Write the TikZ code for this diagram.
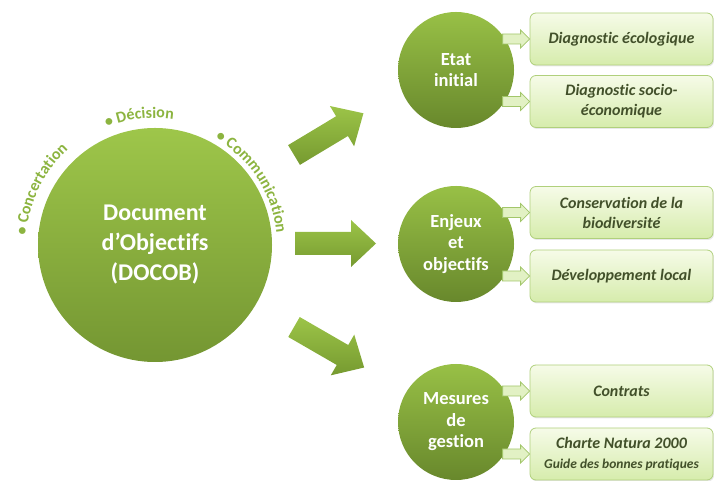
\documentclass[tikz,border=0pt]{standalone}
\usepackage{fontspec}
\setmainfont{Carlito}[Ligatures=NoCommon]
\usetikzlibrary{decorations.text}
\usetikzlibrary{shadows}

\definecolor{circtop}{RGB}{158,198,74}
\definecolor{circbot}{RGB}{116,150,50}
\definecolor{smalltop}{RGB}{152,192,70}
\definecolor{smallbot}{RGB}{104,136,44}
\definecolor{lblgreen}{RGB}{140,180,64}
\definecolor{boxtop}{RGB}{246,251,232}
\definecolor{boxbot}{RGB}{214,236,172}
\definecolor{boxline}{RGB}{176,208,124}
\definecolor{boxtext}{RGB}{66,80,42}
\definecolor{arrtop}{RGB}{156,196,72}
\definecolor{arrbot}{RGB}{118,154,48}
\definecolor{smallarr}{RGB}{226,241,196}
\definecolor{smallarrline}{RGB}{162,198,106}

\tikzset{
  bigcirc/.style={circle, minimum size=234pt, inner sep=0pt, top color=circtop, bottom color=circbot,
    text=white, align=center, font=\fontsize{24}{30}\selectfont\bfseries},
  phase/.style={circle, minimum size=116pt, inner sep=0pt, top color=smalltop, bottom color=smallbot,
    text=white, align=center, font=\fontsize{18.5}{21.5}\selectfont\bfseries},
  item/.style={rounded corners=6pt, minimum width=183pt, minimum height=52pt, draw=boxline, line width=0.8pt,
    top color=boxtop, bottom color=boxbot, text=boxtext, align=center,
    font=\fontsize{16}{20}\selectfont\bfseries\itshape,
    drop shadow={opacity=0.18, shadow xshift=1pt, shadow yshift=-1.5pt}},
  bigarrow/.style={top color=arrtop, bottom color=arrbot, draw=none},
  smallarrow/.style={fill=smallarr, draw=smallarrline, line width=0.8pt, line join=miter},
  arclabel/.style={decorate, decoration={text along path, text align=center,
    text={|\fontsize{16}{16}\selectfont\bfseries\color{lblgreen}|#1}}}
}

\begin{document}
\begin{tikzpicture}[x=1pt,y=1pt]
\useasboundingbox (0,0) rectangle (714,481);

% big circle
\node[bigcirc] (docob) at (155,236) {Document\\d’Objectifs\\(DOCOB)};

% labels round the big circle
\path[arclabel={• Concertation}] (docob.center) ++(184:129) arc[start angle=184, end angle=124, radius=129];
\path[arclabel={• Décision}] (docob.center) ++(120:127) arc[start angle=120, end angle=74, radius=127];
\path[arclabel={• Communication}] (docob.center) ++(70:122) arc[start angle=70, end angle=-4, radius=122];

% block arrows
\begin{scope}[shift={(294,326)}, rotate=31]
  \shade[bigarrow] (0,11.5) -- (56,11.5) -- (56,23.5) -- (81,0) -- (56,-23.5) -- (56,-11.5) -- (0,-11.5) -- cycle;
\end{scope}
\begin{scope}[shift={(295,237.5)}]
  \shade[bigarrow] (0,11.5) -- (56,11.5) -- (56,23.5) -- (81,0) -- (56,-23.5) -- (56,-11.5) -- (0,-11.5) -- cycle;
\end{scope}
\begin{scope}[shift={(294,154)}, rotate=-30]
  \shade[bigarrow] (0,11.5) -- (56,11.5) -- (56,23.5) -- (81,0) -- (56,-23.5) -- (56,-11.5) -- (0,-11.5) -- cycle;
\end{scope}

% phases
\node[phase] (etat) at (456,411) {Etat\\initial};
\node[phase] (enjeux) at (456,237) {Enjeux\\et\\objectifs};
\node[phase] (mesures) at (456,59) {Mesures\\de\\gestion};

% boxes
\node[item] (ecolo) at (621.5,442) {Diagnostic écologique};
\node[item] (socio) at (621.5,379.5) {Diagnostic socio-\\économique};
\node[item] (biodiv) at (621.5,268.5) {Conservation de la\\biodiversité};
\node[item] (devloc) at (621.5,205) {Développement local};
\node[item] (contrats) at (621.5,90) {Contrats};
\node[item] (charte) at (621.5,27) {Charte Natura 2000\\{\fontsize{13.5}{16}\selectfont Guide des bonnes pratiques}};

% small arrows
\foreach \b in {ecolo,socio,biodiv,devloc,contrats,charte}
  \draw[smallarrow] (\b.west) -- ++(-9,9) -- ++(0,-4) -- ++(-18,0) -- ++(0,-10) -- ++(18,0) -- ++(0,-4) -- cycle;

\end{tikzpicture}
\end{document}
